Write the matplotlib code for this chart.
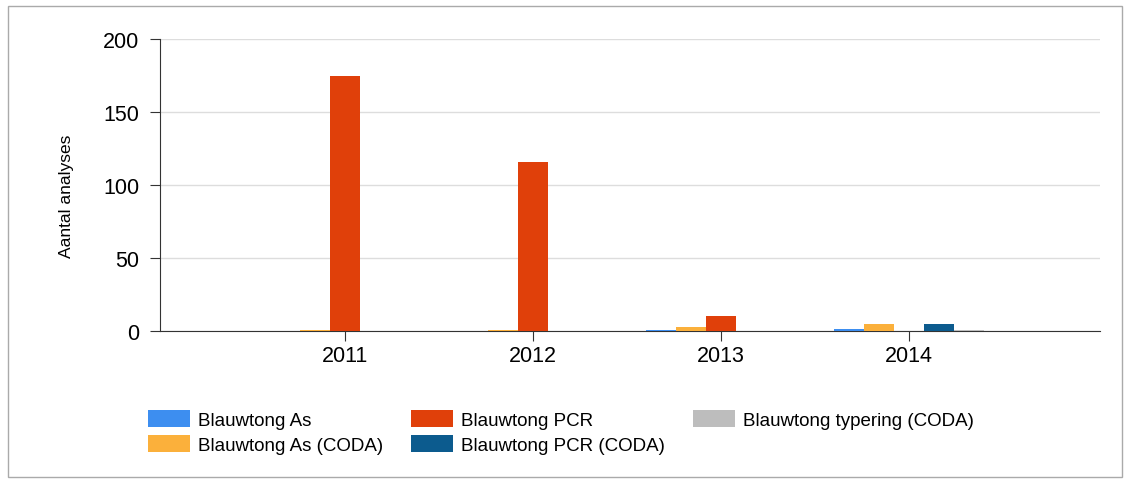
import numpy as np
import matplotlib.pyplot as plt
from matplotlib.patches import Rectangle

plt.rcParams['font.family'] = ['Liberation Sans', 'DejaVu Sans']

years = ['2011', '2012', '2013', '2014']
series = ['Blauwtong As', 'Blauwtong As (CODA)', 'Blauwtong PCR',
          'Blauwtong PCR (CODA)', 'Blauwtong typering (CODA)']
as_vals = [0, 0, 1, 1.5]
as_coda = [1, 1, 3, 5]
pcr = [175, 116, 10, 0]
pcr_coda = [0, 0, 0, 5]
typering = [0, 0, 0, 1]
colors = ['#3d8ef0', '#fbb03b', '#e0400a', '#0c5b8e', '#bdbdbd']

data = [as_vals, as_coda, pcr, pcr_coda, typering]

fig = plt.figure(figsize=(11.31, 4.85), dpi=100)
ax = fig.add_axes([160 / 1131, 1 - 332 / 485, 940 / 1131, 292 / 485])

x = np.arange(len(years))
w = 0.16
for i, (vals, name, c) in enumerate(zip(data, series, colors)):
    ax.bar(x + (i - 2) * w, vals, width=w, color=c, label=name, zorder=3)

ax.set_xlim(-0.985, 4.015)
ax.set_ylim(0, 200)
ax.set_yticks([0, 50, 100, 150, 200])
ax.set_xticks(x)
ax.set_xticklabels(years)
ax.tick_params(axis='both', labelsize=15.5, color='#333333', length=7)
ax.tick_params(axis='y', pad=8)
ax.tick_params(axis='x', pad=3)
ax.grid(axis='y', color='#dddddd', linewidth=1, zorder=0)
for s in ['top', 'right']:
    ax.spines[s].set_visible(False)
ax.spines['left'].set_color('#333333')
ax.spines['bottom'].set_color('#333333')
ax.set_ylabel('Aantal analyses', fontsize=12.5)
ax.yaxis.set_label_coords(-0.0915, 0.466)

fig.legend(loc='upper left', bbox_to_anchor=(131 / 1131, 1 - 394 / 485), ncol=3,
           frameon=False, fontsize=13.5, handlelength=2.25, handleheight=1.0,
           columnspacing=1.45, labelspacing=0.35, handletextpad=0.45)

fig.patches.append(Rectangle((8 / 1131, 7 / 485), 1114 / 1131, 471 / 485,
                             transform=fig.transFigure, fill=False,
                             edgecolor='#aaaaaa', linewidth=1))

fig.savefig('out.png', dpi=100)
